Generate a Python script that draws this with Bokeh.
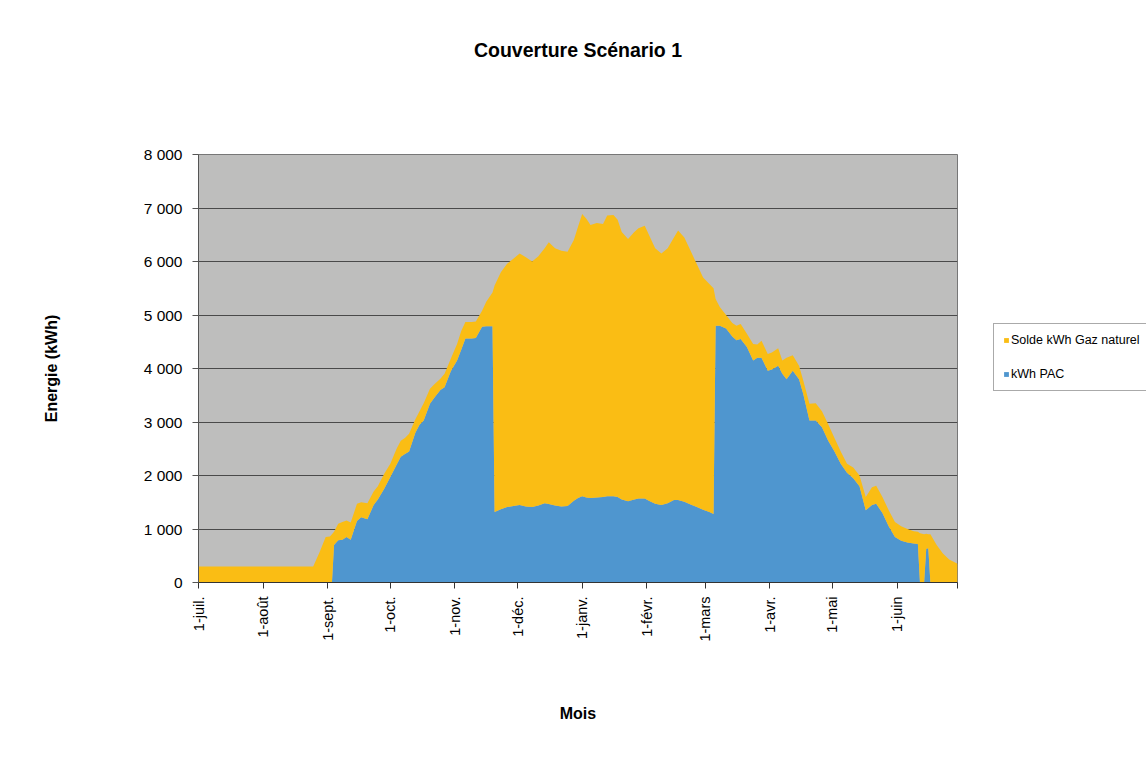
import pandas as pd
from bokeh.plotting import figure
from bokeh.models import (ColumnDataSource, Range1d, FixedTicker, CustomJSTickFormatter,
                          Legend, LegendItem, Title)
from bokeh.embed import file_html
from bokeh.resources import INLINE

# ---- data ----
start_date = "2009-07-01"
# day offsets from 1-juil.
days = [0, 55, 58, 61, 63, 64, 65, 67, 69, 71, 73, 76, 78, 81, 84, 86, 89, 92, 95, 97, 99, 101,
        104, 106, 108, 111, 113, 116, 118, 121, 124, 126, 128, 131, 133, 136, 138, 141,
        142, 145, 148, 151, 154, 157, 160, 163, 166, 168, 171, 174, 177, 180, 182, 184, 186,
        188, 191, 194, 196, 199, 201, 203, 206, 209, 211, 214, 216, 219, 222, 225, 228, 230,
        233, 236, 239, 242, 245, 247,
        248, 250, 253, 256, 258, 260, 263, 266, 268, 270, 273, 275, 278, 280, 282, 285, 288,
        290, 293, 296, 299, 302, 305, 308, 311, 314, 317, 320, 323, 325, 328, 331, 334, 337,
        340, 343, 345, 346, 348, 349, 350, 351, 354, 357, 360, 364]

kwh_pac = [0, 0, 0, 0, 0, 0, 700, 790, 800, 850, 800, 1150, 1220, 1180, 1450, 1550, 1750, 1970,
           2200, 2350, 2400, 2450, 2800, 2950, 3030, 3340, 3450, 3600, 3650, 3950, 4150, 4350,
           4560, 4560, 4570, 4780, 4790, 4790,
           1320, 1370, 1410, 1430, 1450, 1420, 1410, 1440, 1480, 1465, 1440, 1420, 1430, 1530,
           1580, 1610, 1590, 1580, 1590, 1600, 1610, 1610, 1600, 1550, 1520, 1550, 1570, 1570,
           1530, 1470, 1450, 1480, 1540, 1540, 1510, 1460, 1410, 1360, 1320, 1280,
           4800, 4800, 4750, 4600, 4530, 4550, 4400, 4150, 4200, 4200, 3960, 3980, 4050, 3900,
           3800, 3960, 3800, 3530, 3030, 3030, 2900, 2650, 2450, 2220, 2050, 1950, 1800, 1350,
           1450, 1470, 1300, 1050, 850, 780, 750, 730, 720, 0, 0, 630, 640, 0, 0, 0, 0, 0]

solde_gaz = [300, 300, 560, 850, 860, 900, 250, 310, 330, 310, 320, 320, 280, 300, 250, 250, 280,
             250, 300, 300, 300, 330, 250, 250, 320, 280, 250, 210, 250, 230, 310, 350, 310,
             310, 310, 300, 460, 630,
             4230, 4430, 4550, 4620, 4700, 4660, 4590, 4660, 4770, 4895, 4810, 4780, 4750, 4870,
             5070, 5280, 5210, 5100, 5130, 5100, 5250, 5260, 5180, 5000, 4900, 5000, 5050, 5100,
             4970, 4780, 4700, 4770, 4910, 5040, 4940, 4740, 4540, 4340, 4260, 4220,
             500, 350, 250, 250, 270, 280, 250, 310, 250, 320, 310, 320, 330, 250, 400, 290,
             250, 250, 310, 320, 300, 310, 250, 230, 170, 200, 200, 250, 330, 340, 300, 300,
             280, 270, 250, 230, 230, 920, 900, 280, 260, 900, 700, 540, 430, 350]

series_labels = ["kWh PAC", "Solde kWh Gaz naturel"]
month_labels = ["juil.", "août", "sept.", "oct.", "nov.", "déc.", "janv.", "févr.",
                "mars", "avr.", "mai", "juin"]

# ---- build ----
dates = pd.Timestamp(start_date) + pd.to_timedelta(days, unit="D")
source = ColumnDataSource(dict(date=dates, pac=kwh_pac, gaz=solde_gaz))

BLUE = "#4F96CF"
YELLOW = "#FABD14"
FONT = "Liberation Sans"

x0 = pd.Timestamp(start_date)
x1 = x0 + pd.Timedelta(days=364)

p = figure(x_axis_type="datetime", frame_width=759, frame_height=428,
           min_border_left=198, min_border_right=186, min_border_top=154, min_border_bottom=182,
           x_range=Range1d(x0, x1), y_range=Range1d(0, 8000),
           output_backend="svg", toolbar_location=None)

rs = p.varea_stack(["pac", "gaz"], x="date", color=[BLUE, YELLOW], source=source)

p.background_fill_color = "#BEBEBD"
p.border_fill_color = "white"
p.outline_line_color = "#777777"
p.outline_line_width = 1

# grid
p.xgrid.grid_line_color = None
p.ygrid.grid_line_color = "#4a4a4a"
p.ygrid.grid_line_width = 1

# y axis
p.yaxis.ticker = FixedTicker(ticks=[0, 1000, 2000, 3000, 4000, 5000, 6000, 7000, 8000])
p.yaxis.formatter = CustomJSTickFormatter(code="""
    return tick.toFixed(0).replace(/\\B(?=(\\d{3})+(?!\\d))/g, ' ');
""")
p.yaxis.axis_label = "Energie (kWh)"
p.yaxis.axis_label_text_font = FONT
p.yaxis.axis_label_text_font_size = "16px"
p.yaxis.axis_label_text_font_style = "bold"
p.yaxis.axis_label_text_color = "black"
p.yaxis.axis_label_standoff = 81
p.yaxis.major_label_text_font = FONT
p.yaxis.major_label_text_font_size = "15.5px"
p.yaxis.major_label_text_color = "black"
p.yaxis.major_label_standoff = 10
p.yaxis.major_tick_out = 6
p.yaxis.major_tick_in = 0
p.yaxis.minor_tick_line_color = None
p.yaxis.axis_line_color = "#555555"
p.yaxis.major_tick_line_color = "#555555"

# x axis
month_ticks = [(x0 + pd.DateOffset(months=i)).value / 1e6 for i in range(12)]
month_ticks.append(x1.value / 1e6)
p.xaxis.ticker = FixedTicker(ticks=month_ticks)
p.xaxis.formatter = CustomJSTickFormatter(args=dict(names=month_labels), code="""
    const d = new Date(tick);
    if (d.getUTCDate() != 1) return '';
    const m = (d.getUTCMonth() + 6) % 12;
    return '1-' + names[m];
""")
p.xaxis.major_label_orientation = 1.5708
p.xaxis.axis_label = "Mois"
p.xaxis.axis_label_text_font = FONT
p.xaxis.axis_label_text_font_size = "16px"
p.xaxis.axis_label_text_font_style = "bold"
p.xaxis.axis_label_text_color = "black"
p.xaxis.axis_label_standoff = 60
p.xaxis.major_label_text_font = FONT
p.xaxis.major_label_text_font_size = "14.5px"
p.xaxis.major_label_text_color = "black"
p.xaxis.major_label_standoff = 8
p.xaxis.major_tick_out = 6
p.xaxis.major_tick_in = 0
p.xaxis.minor_tick_line_color = None
p.xaxis.axis_line_color = "#333333"
p.xaxis.major_tick_line_color = "#333333"

# title (a blank spacer title sits between the frame and the real title)
spacer = Title(text=" ", align="center", text_font=FONT, text_font_size="19.5px",
               standoff=70)
p.add_layout(spacer, "above")
title = Title(text="Couverture Scénario 1", align="center", text_font=FONT,
              text_font_size="19.5px", text_font_style="bold", text_color="black",
              standoff=0)
p.add_layout(title, "above")

# legend
legend = Legend(items=[LegendItem(label=series_labels[1], renderers=[rs[1]]),
                       LegendItem(label=series_labels[0], renderers=[rs[0]])],
                location=(36, 191), orientation="vertical",
                label_text_font=FONT, label_text_font_size="12.5px",
                label_text_color="black",
                glyph_width=6, glyph_height=6, label_standoff=2,
                spacing=20, padding=9, margin=0,
                border_line_color="#555555", border_line_width=1,
                background_fill_color="white", background_fill_alpha=1.0)
p.add_layout(legend, "right")

open("out.html", "w").write(file_html(p, INLINE))
